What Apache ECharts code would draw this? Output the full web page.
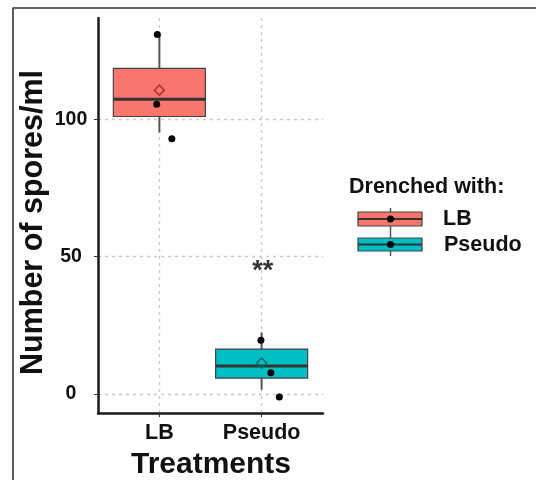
<!DOCTYPE html>
<html><head><meta charset="utf-8">
<script src="https://cdn.jsdelivr.net/npm/echarts@6/dist/echarts.min.js"></script>
<style>html,body{margin:0;padding:0;background:#fff}#c{width:536px;height:480px}</style>
</head><body><div id="c"></div>
<script>
// ---- data ----
const categories = ['LB', 'Pseudo'];
const boxColors = ['#F8766D', '#00BFC4'];
const meanColors = ['#a8352e', '#006a6d'];
const boxMin = [95.3, 1.5];
const boxQ1 = [101.1, 5.7];
const boxMedian = [107.4, 10.1];
const boxQ3 = [118.6, 16.3];
const boxMax = [131, 22.4];
const meanValues = [110.7, 11.2];
const pointsLB = [131, 105.6, 93.0];
const jitterLB = [-0.02, -0.026, 0.122];
const pointsPseudo = [19.5, 7.7, -1.2];
const jitterPseudo = [-0.007, 0.09, 0.173];
const starLabels = ['**'];
const starCategory = [1];
const starY = [46.7];
const yTicks = [0, 50, 100];
const xTicks = [0, 1];

const FONT = 'Liberation Sans, Arial, sans-serif';

const boxData = categories.map((c, i) => [i, boxMin[i], boxQ1[i], boxMedian[i], boxQ3[i], boxMax[i]]);
const pointData = [];
pointsLB.forEach((v, k) => pointData.push([0 + jitterLB[k], v]));
pointsPseudo.forEach((v, k) => pointData.push([1 + jitterPseudo[k], v]));
const meanData = meanValues.map((v, i) => ({ value: [i, v], itemStyle: { borderColor: meanColors[i] } }));
const starData = starLabels.map((s, i) => ({ value: [starCategory[i], starY[i]], name: s }));

const gridMarks = yTicks.map(v => ({ yAxis: v })).concat(xTicks.map(v => ({ xAxis: v })));

const chart = echarts.init(document.getElementById('c'), null, { renderer: 'canvas' });
chart.setOption({
  animation: false,
  backgroundColor: '#fff',
  textStyle: { fontFamily: FONT },
  grid: { left: 98, right: 213, top: 18, bottom: 67 },
  xAxis: {
    type: 'value', min: -0.6, max: 1.6,
    splitLine: { show: false },
    axisLine: { show: true, onZero: false, lineStyle: { color: '#1a1a1a', width: 2.5 } },
    axisTick: { show: true, customValues: xTicks, length: 4, lineStyle: { color: '#333', width: 1 } },
    axisLabel: { customValues: xTicks, formatter: v => categories[v] || '', color: '#111',
      fontSize: 21.5, fontWeight: 'bold', fontFamily: FONT, margin: 9 }
  },
  yAxis: {
    type: 'value', min: -7, max: 137,
    splitLine: { show: false },
    axisLine: { show: true, onZero: false, lineStyle: { color: '#1a1a1a', width: 2.5 } },
    axisTick: { show: true, customValues: yTicks, length: 4, lineStyle: { color: '#333', width: 1 } },
    axisLabel: { customValues: yTicks, color: '#111', fontSize: 19.5, fontWeight: 'bold', fontFamily: FONT,
      margin: 27, align: 'center', padding: [7, 0, 0, 0] }
  },
  series: [
    {
      type: 'scatter', data: [], z: 0, silent: true,
      markLine: { silent: true, z: 0, symbol: 'none', label: { show: false }, animation: false,
        lineStyle: { type: [3, 4], color: '#c8c8c8', width: 1.3 }, data: gridMarks }
    },
    {
      type: 'custom', z: 2, data: boxData,
      encode: { x: 0, y: [1, 2, 3, 4, 5] },
      renderItem: function (params, api) {
        const x = api.value(0);
        const cx = api.coord([x, api.value(3)])[0];
        const yMin = api.coord([x, api.value(1)])[1];
        const yQ1 = api.coord([x, api.value(2)])[1];
        const yMed = api.coord([x, api.value(3)])[1];
        const yQ3 = api.coord([x, api.value(4)])[1];
        const yMax = api.coord([x, api.value(5)])[1];
        const w = api.size([0.9, 0])[0];
        return {
          type: 'group', children: [
            { type: 'line', shape: { x1: cx, y1: yQ3, x2: cx, y2: yMax }, style: { stroke: '#555', lineWidth: 2 } },
            { type: 'line', shape: { x1: cx, y1: yQ1, x2: cx, y2: yMin }, style: { stroke: '#555', lineWidth: 2 } },
            { type: 'rect', shape: { x: cx - w / 2, y: yQ3, width: w, height: yQ1 - yQ3 },
              style: { fill: boxColors[params.dataIndex], stroke: '#444', lineWidth: 1.2 } },
            { type: 'line', shape: { x1: cx - w / 2, y1: yMed, x2: cx + w / 2, y2: yMed }, style: { stroke: '#333', lineWidth: 3 } }
          ]
        };
      }
    },
    {
      type: 'scatter', z: 4, data: pointData, symbol: 'circle', symbolSize: 7,
      itemStyle: { color: '#000', opacity: 1 }
    },
    {
      type: 'scatter', z: 5, data: meanData, symbol: 'diamond', symbolSize: 10,
      itemStyle: { color: 'rgba(0,0,0,0)', borderWidth: 1.5, opacity: 1 }
    },
    {
      type: 'scatter', z: 6, data: starData, symbolSize: 0,
      label: { show: true, position: 'inside', formatter: p => p.name, fontSize: 27, fontWeight: 'bold', color: '#000', fontFamily: FONT, offset: [1, 6] }
    }
  ],
  graphic: [
    { type: 'line', shape: { x1: 13, y1: 8, x2: 536, y2: 8 }, style: { stroke: '#333', lineWidth: 1.6 } },
    { type: 'line', shape: { x1: 13, y1: 7.5, x2: 13, y2: 480 }, style: { stroke: '#333', lineWidth: 1.6 } },
    { type: 'text', x: 211, y: 465, style: { text: 'Treatments', font: 'bold 30px ' + FONT, fill: '#111', align: 'center', verticalAlign: 'middle' } },
    { type: 'text', x: 34, y: 222.5, rotation: Math.PI / 2, style: { text: 'Number of spores/ml', font: 'bold 30.5px ' + FONT, fill: '#111', align: 'center', verticalAlign: 'middle' } },
    { type: 'text', x: 349, y: 187, style: { text: 'Drenched with:', font: 'bold 21.5px ' + FONT, fill: '#111', align: 'left', verticalAlign: 'middle' } },
    // legend keys
    { type: 'line', shape: { x1: 390.5, y1: 208, x2: 390.5, y2: 256 }, style: { stroke: '#555', lineWidth: 1.5 } },
    { type: 'rect', shape: { x: 358, y: 212, width: 64, height: 14 }, style: { fill: boxColors[0], stroke: '#444', lineWidth: 1.2 } },
    { type: 'line', shape: { x1: 358, y1: 219, x2: 422, y2: 219 }, style: { stroke: '#333', lineWidth: 2 } },
    { type: 'circle', shape: { cx: 390.5, cy: 219, r: 3.5 }, style: { fill: '#000' } },
    { type: 'rect', shape: { x: 358, y: 238, width: 64, height: 13 }, style: { fill: boxColors[1], stroke: '#444', lineWidth: 1.2 } },
    { type: 'line', shape: { x1: 358, y1: 244.5, x2: 422, y2: 244.5 }, style: { stroke: '#333', lineWidth: 2 } },
    { type: 'circle', shape: { cx: 390.5, cy: 244.5, r: 3.5 }, style: { fill: '#000' } },
    { type: 'text', x: 443, y: 219, style: { text: categories[0], font: 'bold 21.5px ' + FONT, fill: '#111', align: 'left', verticalAlign: 'middle' } },
    { type: 'text', x: 444, y: 245, style: { text: categories[1], font: 'bold 21.5px ' + FONT, fill: '#111', align: 'left', verticalAlign: 'middle' } }
  ]
});
</script></body></html>
